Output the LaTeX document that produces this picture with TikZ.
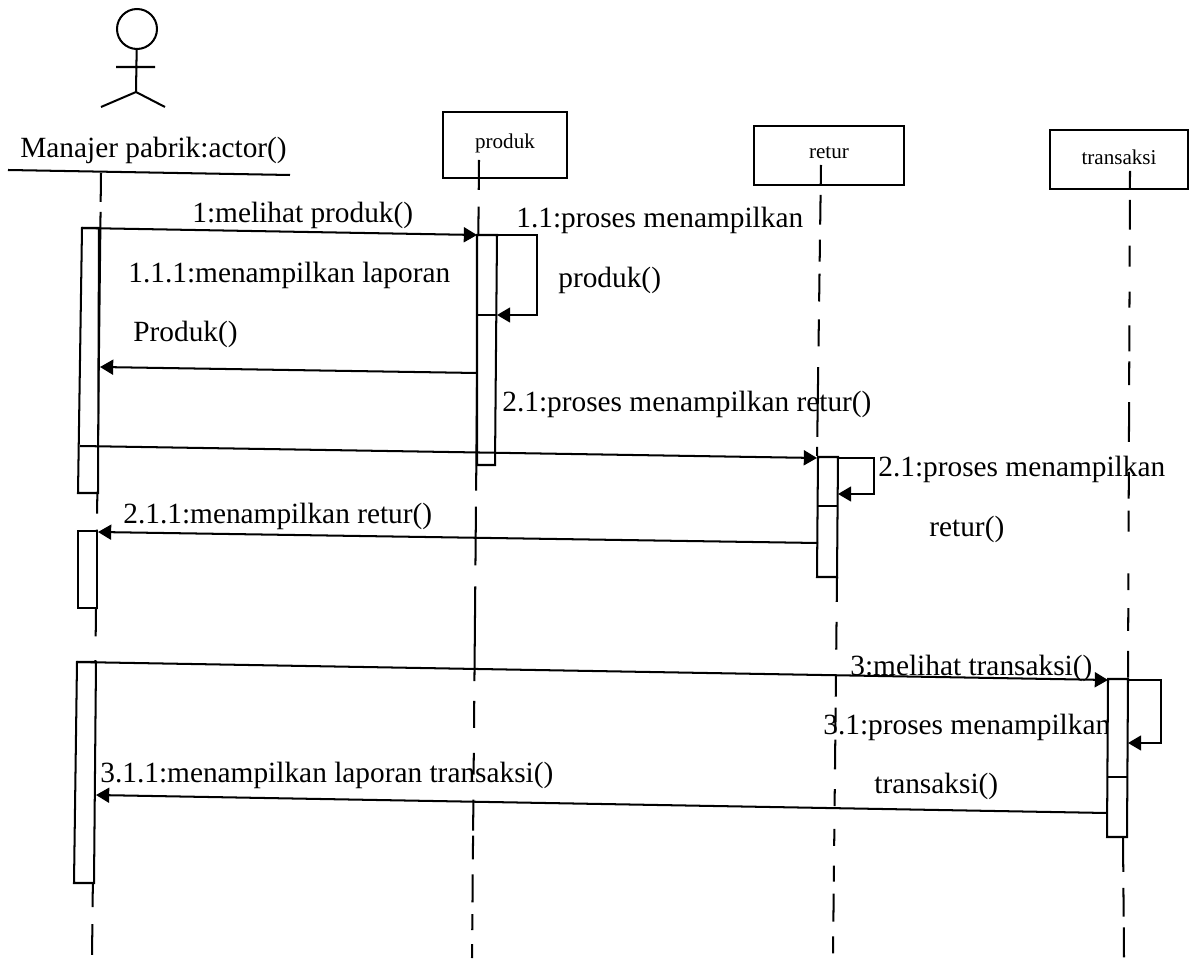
\documentclass[tikz,border=0pt]{standalone}
\usepackage{fontspec}
\setmainfont{Liberation Serif}
\usetikzlibrary{arrows.meta}
\tikzset{
  px/.style={x=0.02cm,y=-0.02cm},
  lineonly/.style={draw=black,line width=1.15pt},
  bar/.style={lineonly,fill=white},
  objbox/.style={lineonly,inner sep=0pt,font=\fontsize{12}{14}\selectfont},
  msg/.style={lineonly,-{Triangle[length=7.5pt,width=8.5pt]}},
  msgtext/.style={inner sep=0pt,anchor=base west,font=\fontsize{16.7}{19}\selectfont}
}
\begin{document}
\begin{tikzpicture}[px]
  \useasboundingbox (0,0) rectangle (1190,962);
  % actor
  \node (actorHead) [circle,lineonly,minimum size=0.8cm,inner sep=0pt] at (137,29) {};
  \coordinate (actorHip) at (136,92);
  \coordinate (actorArmL) at (116,67); \coordinate (actorArmR) at (155,67);
  \coordinate (actorFootL) at (101,107); \coordinate (actorFootR) at (165,107);
  \draw[lineonly] (actorHead) -- (actorHip) (actorArmL) -- (actorArmR)
    (actorFootL) -- (actorHip) -- (actorFootR);
  \node (actorName) [msgtext] at (20,158) {Manajer pabrik:actor()};
  \coordinate (nameLineL) at (8,170); \coordinate (nameLineR) at (290,175);
  \draw[lineonly] (nameLineL) -- (nameLineR);

  % objects
  \node (produkBox) [objbox,minimum width=2.48cm,minimum height=1.32cm] at (505,145) {\raisebox{4.5pt}{produk}};
  \node (returBox) [objbox,minimum width=3cm,minimum height=1.18cm] at (829,155.5) {\raisebox{3pt}{retur}};
  \node (transaksiBox) [objbox,minimum width=2.76cm,minimum height=1.18cm] at (1119,159.5) {\raisebox{2.5pt}{transaksi}};

  % lifelines
  \coordinate (lifeATop) at (101,173); \coordinate (lifeABot) at (92,958);
  \coordinate (lifePTop) at (479,160); \coordinate (lifePBot) at (472,958);
  \coordinate (lifeRTop) at (821,165); \coordinate (lifeRMid) at (817,457);
  \coordinate (lifeRLow) at (837,577); \coordinate (lifeRBot) at (833,958);
  \coordinate (lifeTTop) at (1130,171); \coordinate (lifeTMid) at (1128,680);
  \coordinate (lifeTLow) at (1123,837); \coordinate (lifeTBot) at (1124,958);
  \draw[lineonly,dash pattern=on 16.4pt off 5.7pt on 171.8pt off 9.1pt on 60.7pt off 13.6pt on 140.6pt off 9.6pt on 17.6pt off 9pt] (lifeATop) -- (lifeABot);
  \draw[lineonly,dash pattern=on 17pt off 9.6pt on 161.6pt off 9.1pt on 33.5pt off 11.9pt on 53.9pt off 11.3pt on 15.3pt off 14.2pt on 12.5pt off 14.2pt on 17.6pt off 2.8pt on 13.6pt off 8.5pt on 15.9pt off 6.8pt on 9.1pt off 7.9pt on 11.3pt off 9pt] (lifePTop) -- (lifePBot);
  \draw[lineonly,dash pattern=on 11.3pt off 5.7pt on 17pt off 8.5pt on 12.5pt off 6.8pt on 15.9pt off 10.2pt on 15.3pt off 11.9pt on 39.7pt off 5.7pt on 5.1pt off 9pt] (lifeRTop) -- (lifeRMid);
  \draw[lineonly,dash pattern=on 14.2pt off 11.3pt on 15.9pt off 14.2pt on 12.5pt off 6.2pt on 14.2pt off 4pt on 17pt off 11.3pt on 9.6pt off 13pt on 9.6pt off 11.3pt on 9.1pt off 6.8pt on 15.9pt off 8.5pt on 9.6pt off 9pt] (lifeRLow) -- (lifeRBot);
  \draw[lineonly,dash pattern=on 10.2pt off 6.2pt on 17pt off 9.1pt on 11.9pt off 14.2pt on 9.1pt off 10.2pt on 14.7pt off 5.7pt on 13.6pt off 9.6pt on 22.7pt off 17pt on 15.3pt off 6.8pt on 11.9pt off 23.8pt on 9.6pt off 10.2pt on 13pt off 11.3pt on 15.3pt off 9pt] (lifeTTop) -- (lifeTMid);
  \draw[lineonly,dash pattern=on 19.8pt off 9.1pt on 16.4pt off 6.2pt on 17pt off 9pt] (lifeTLow) -- (lifeTBot);

  % labels
  \node (t1) [msgtext] at (192,223) {1:melihat produk()};
  \node (t11) [msgtext] at (516,228) {1.1:proses menampilkan};
  \node (t11b) [msgtext] at (558,288) {produk()};
  \node (t111) [msgtext] at (128,283) {1.1.1:menampilkan laporan};
  \node (t111b) [msgtext] at (133,342) {Produk()};
  \node (t2) [msgtext] at (502,412) {2.1:proses menampilkan retur()};
  \node (t21) [msgtext] at (878,477) {2.1:proses menampilkan};
  \node (t21b) [msgtext] at (929,537) {retur()};
  \node (t211) [msgtext] at (123,523) {2.1.1:menampilkan retur()};
  \node (t3) [msgtext] at (850,675) {3:melihat transaksi()};
  \node (t31) [msgtext] at (823,734) {3.1:proses menampilkan};
  \node (t31b) [msgtext] at (874,793) {transaksi()};
  \node (t311) [msgtext] at (100,782) {3.1.1:menampilkan laporan transaksi()};

  % activation bars
  \draw[bar] (82,228) -- (99,228) -- (98,493) -- (78,493) -- cycle;
  \draw[bar] (78,531) -- (97,531) -- (97,608) -- (78,608) -- cycle;
  \draw[bar] (77,662) -- (96,662) -- (94,883) -- (74,883) -- cycle;
  \draw[bar] (477,235) -- (497,235) -- (495,465) -- (477,465) -- cycle;
  \draw[lineonly] (477,315) -- (497,315);
  \draw[bar] (818,457) -- (838,457) -- (837,577) -- (817,577) -- cycle;
  \draw[lineonly] (818,506) -- (838,506);
  \draw[bar] (1108,679) -- (1128,679) -- (1127,837) -- (1107,837) -- cycle;
  \draw[lineonly] (1108,777) -- (1128,777);

  % messages
  \coordinate (m1a) at (82,228); \coordinate (m1b) at (477,235);
  \draw[msg] (m1a) -- (m1b);
  \coordinate (s1a) at (497,235); \coordinate (s1b) at (537,235);
  \coordinate (s1c) at (537,315); \coordinate (s1d) at (497,315);
  \draw[msg] (s1a) -- (s1b) -- (s1c) -- (s1d);
  \coordinate (m2a) at (477,373); \coordinate (m2b) at (100,367);
  \draw[msg] (m2a) -- (m2b);
  \coordinate (m3a) at (80,446); \coordinate (m3b) at (817,458);
  \draw[msg] (m3a) -- (m3b);
  \coordinate (s2a) at (838,458); \coordinate (s2b) at (874,458);
  \coordinate (s2c) at (874,494); \coordinate (s2d) at (838,494);
  \draw[msg] (s2a) -- (s2b) -- (s2c) -- (s2d);
  \coordinate (m4a) at (818,543); \coordinate (m4b) at (98,532);
  \draw[msg] (m4a) -- (m4b);
  \coordinate (m5a) at (77,662); \coordinate (m5b) at (1108,680);
  \draw[msg] (m5a) -- (m5b);
  \coordinate (s3a) at (1128,680); \coordinate (s3b) at (1161,680);
  \coordinate (s3c) at (1161,743); \coordinate (s3d) at (1128,743);
  \draw[msg] (s3a) -- (s3b) -- (s3c) -- (s3d);
  \coordinate (m6a) at (1107,813); \coordinate (m6b) at (96,795);
  \draw[msg] (m6a) -- (m6b);
\end{tikzpicture}
\end{document}
